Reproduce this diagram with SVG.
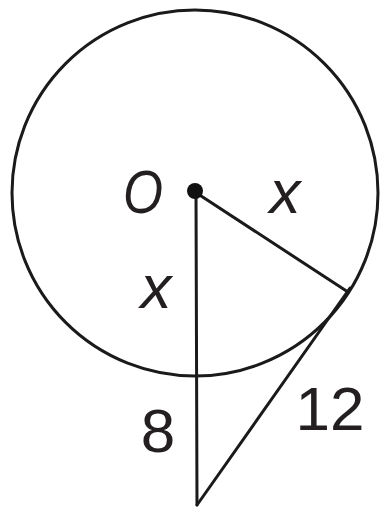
<svg xmlns="http://www.w3.org/2000/svg" width="380" height="512" viewBox="0 0 380 512">
<style>
.ln{fill:none;stroke:#1a1a1a;stroke-width:3;stroke-linecap:round;stroke-linejoin:round}
.lb{font-family:"Liberation Sans","Open Sans",sans-serif;font-size:62px;fill:#231f20;text-anchor:middle}
.it{font-style:italic}
</style>
<rect width="380" height="512" fill="#fff"/>
<g id="circle"><circle class="ln" cx="195" cy="193" r="183"/></g>
<g id="connectors">
<line class="ln" x1="195" y1="192" x2="348" y2="292"/>
<line class="ln" x1="196" y1="192" x2="197" y2="505"/>
<line class="ln" x1="197" y1="505" x2="350" y2="288"/>
</g>
<g id="center-O">
<circle cx="195" cy="191" r="8" fill="#111"/>
<text class="lb it" x="143" y="213" textLength="40" lengthAdjust="spacingAndGlyphs">O</text>
</g>
<g id="labels">
<text class="lb it" x="285" y="213">x</text>
<text class="lb it" x="156" y="308">x</text>
<text class="lb" x="158" y="452">8</text>
<text class="lb" x="330" y="430">12</text>
</g>
</svg>
